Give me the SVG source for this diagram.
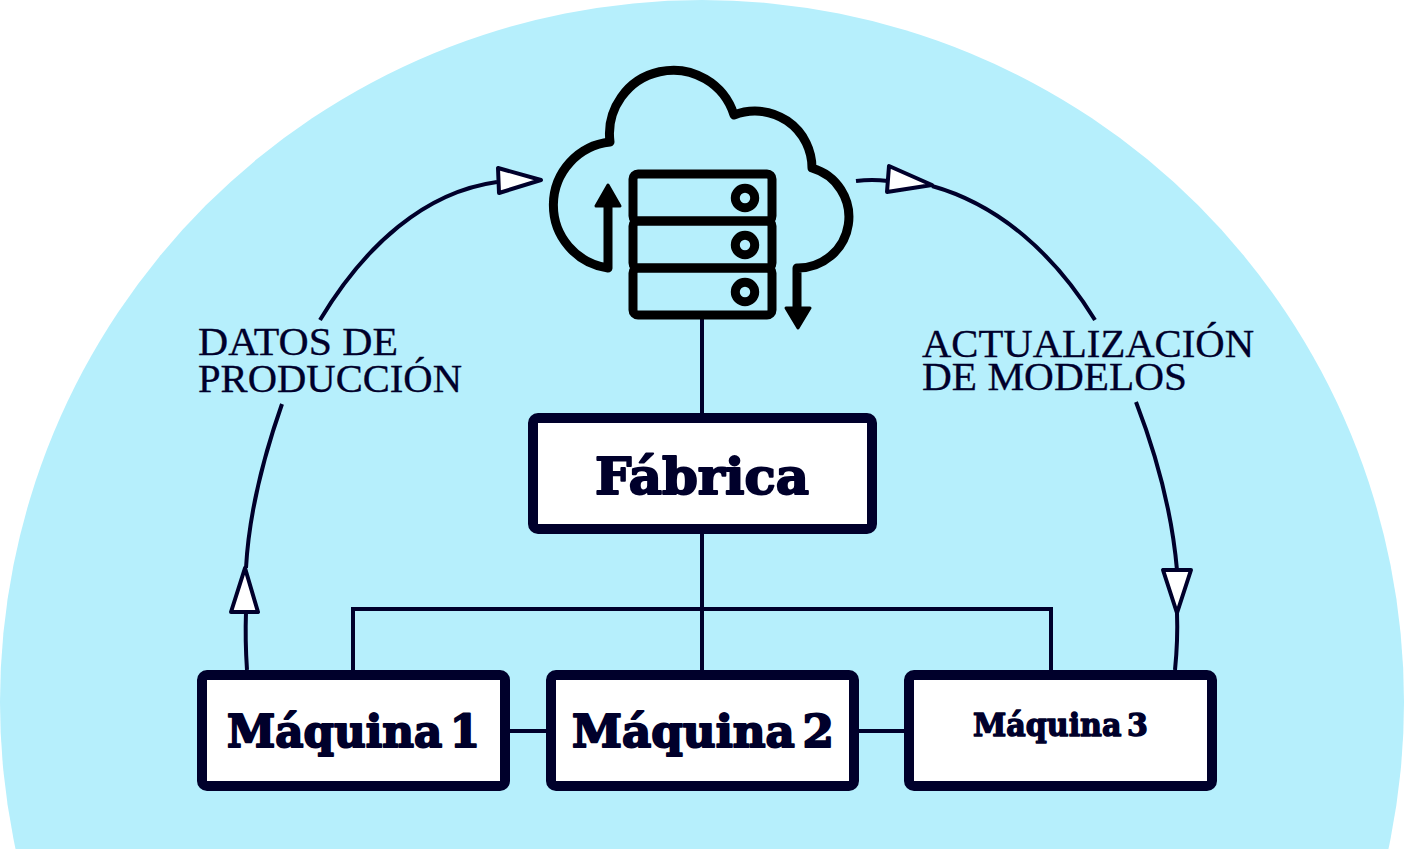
<svg xmlns="http://www.w3.org/2000/svg" width="1404" height="849" viewBox="0 0 1404 849">
<style>
.node{fill:#fff;stroke:#00002b;stroke-width:10;stroke-linejoin:round}
.t{font-family:"DejaVu Serif","Liberation Serif",serif;font-weight:bold;fill:#00002b;stroke:#00002b;stroke-width:2;stroke-linejoin:round;word-spacing:-8px}
.l{font-family:"Liberation Serif","Times New Roman",serif;font-size:39px;fill:#00002b;stroke:#00002b;stroke-width:.3}
.c{fill:none;stroke:#00002b;stroke-width:4}
.h{fill:#fff;stroke:#00002b;stroke-width:4;stroke-linejoin:round}
.i{fill:none;stroke:#000;stroke-width:9;stroke-linejoin:round;stroke-linecap:round}
.a{fill:#000;stroke:#000;stroke-width:3;stroke-linejoin:round}
</style>
<circle cx="702" cy="702" r="702" fill="#b6effc"/>
<g id="connectors">
<path class="c" d="M702 318V413M702 534V670M353 670V609H1051V670M510 731H546M859 731H904"/>
<path class="c" d="M247 670Q245 640 246 612"/>
<path class="c" d="M282 404Q250 495 246 568"/>
<path class="c" d="M320 320C365 245 425 192 497 182"/>
<path class="h" d="M245 568L258 612H231Z"/>
<path class="h" d="M541 180L498 168L499 193Z"/>
<path class="c" d="M856 181Q872 179 888 181"/>
<path class="c" d="M932 186C1000 205 1055 255 1095 320"/>
<path class="c" d="M1136 402Q1170 490 1177 570"/>
<path class="c" d="M1177 613Q1178 640 1175 670"/>
<path class="h" d="M932 185L889 166L887 192Z"/>
<path class="h" d="M1177 613L1163 570H1191Z"/>
</g>
<g id="cloud-server">
<path class="i" d="M608 268A63.5 63.5 0 0 1 610 142A63.7 63.7 0 0 1 734 115A57 57 0 0 1 812 168A51 51 0 0 1 797 268V310M608 268V206"/>
<path class="a" d="M608 185L620 206H596Z"/>
<path class="a" d="M798 328L786 308H810Z"/>
<rect class="i" x="633" y="174" width="139" height="47" rx="5"/>
<rect class="i" x="633" y="221" width="139" height="47" rx="5"/>
<rect class="i" x="633" y="268" width="139" height="47" rx="5"/>
<circle class="i" cx="745" cy="198" r="9.7"/>
<circle class="i" cx="745" cy="245" r="9.7"/>
<circle class="i" cx="745" cy="292" r="9.7"/>
</g>
<g id="fabrica">
<rect class="node" x="533" y="418" width="339" height="111" rx="5"/>
<text class="t" x="595" y="494" font-size="50" textLength="214" lengthAdjust="spacingAndGlyphs">Fábrica</text>
</g>
<g id="maquina1">
<rect class="node" x="202" y="675" width="303" height="111" rx="5"/>
<text class="t" x="227" y="747" font-size="45" textLength="253" lengthAdjust="spacingAndGlyphs">Máquina 1</text>
</g>
<g id="maquina2">
<rect class="node" x="551" y="675" width="303" height="111" rx="5"/>
<text class="t" x="572" y="747" font-size="45" textLength="262" lengthAdjust="spacingAndGlyphs">Máquina 2</text>
</g>
<g id="maquina3">
<rect class="node" x="909" y="675" width="303" height="111" rx="5"/>
<text class="t" x="973" y="736" font-size="31" textLength="175" lengthAdjust="spacingAndGlyphs" style="word-spacing:-5px;stroke-width:1.4">Máquina 3</text>
</g>
<g id="labels">
<text class="l" x="198" y="355" textLength="200" lengthAdjust="spacingAndGlyphs">DATOS DE</text>
<text class="l" x="198" y="392" textLength="264" lengthAdjust="spacingAndGlyphs">PRODUCCIÓN</text>
<text class="l" x="922" y="357" textLength="332" lengthAdjust="spacingAndGlyphs">ACTUALIZACIÓN</text>
<text class="l" x="922" y="390" textLength="265" lengthAdjust="spacingAndGlyphs">DE MODELOS</text>
</g>
</svg>
